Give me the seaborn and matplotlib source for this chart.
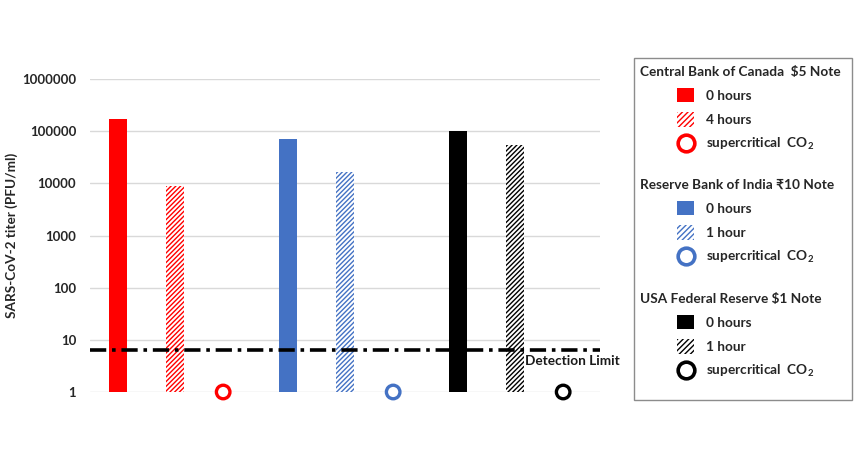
import numpy as np
import pandas as pd
import matplotlib.pyplot as plt
import seaborn as sns
from matplotlib.patches import Patch, Rectangle
from matplotlib.lines import Line2D

# values (PFU/ml)
notes = ['Central Bank of Canada  $5 Note', 'Reserve Bank of India \u20b910 Note', 'USA Federal Reserve $1 Note']
note_colors = ['#FF0000', '#4472C4', '#000000']
treated_labels = ['4 hours', '1 hour', '1 hour']
titer_0h = [170000, 70000, 100000]
titer_treated = [8900, 16500, 54000]
titer_sco2 = [1, 1, 1]
detection_limit = 6.3
yticks = [1, 10, 100, 1000, 10000, 100000, 1000000]


def build_frame():
    rows = []
    for i, note in enumerate(notes):
        rows.append({'slot': f'{i}-0h', 'note': note, 'kind': '0h', 'titer': titer_0h[i], 'color': note_colors[i]})
        rows.append({'slot': f'{i}-t', 'note': note, 'kind': 'treated', 'titer': titer_treated[i], 'color': note_colors[i]})
        rows.append({'slot': f'{i}-sco2', 'note': note, 'kind': 'sco2', 'titer': titer_sco2[i], 'color': note_colors[i]})
    return pd.DataFrame(rows)


def main():
    sns.set_style('white')
    plt.rcParams['font.family'] = ['Lato', 'DejaVu Sans']
    plt.rcParams['mathtext.default'] = 'regular'
    plt.rcParams['hatch.linewidth'] = 1.0

    df = build_frame()
    slots = list(df['slot'])
    bars = df[df['kind'] != 'sco2']

    fig = plt.figure(figsize=(8.68, 4.59), dpi=100)
    ax = fig.add_axes([90 / 868, 1 - 392 / 459, 510 / 868, 313 / 459])
    ax.set_yscale('log')

    sns.barplot(data=bars, x='slot', y='titer', hue='slot', order=slots, hue_order=list(bars['slot']),
                palette=list(bars['color']), width=0.32, legend=False, ax=ax, saturation=1, dodge=False)

    # hatched bars for the treated notes
    for p in ax.patches:
        idx = int(round(p.get_x() + p.get_width() / 2))
        if idx not in df.index:
            continue
        col = df.loc[idx, 'color']
        p.set_linewidth(0)
        if df.loc[idx, 'kind'] == 'treated':
            p.set_facecolor('white')
            p.set_edgecolor(col)
            p.set_hatch('///////')

    sco2 = df[df['kind'] == 'sco2']
    ax.scatter(sco2.index - 0.15, sco2['titer'], s=95, facecolors='white',
               edgecolors=sco2['color'], linewidths=2.4, zorder=5, clip_on=False)

    ax.axhline(detection_limit, color='black', lw=2.6, linestyle=(0, (4.5, 1.6, 1, 1.6)), zorder=4)
    ax.text(7.18, 3.9, 'Detection Limit', fontsize=9.8, fontweight='bold', va='center', ha='left',
            color='#1a1a1a', clip_on=False)

    ax.set_ylim(1, 1e6)
    ax.set_xlim(-0.5, 8.5)
    ax.set_yticks(yticks)
    ax.set_yticklabels([str(v) for v in yticks], fontsize=9.5, fontweight='bold', color='#262626')
    ax.minorticks_off()
    ax.tick_params(axis='y', length=0, pad=10)
    ax.set_xticks([])
    ax.set_xlabel('')
    ax.set_ylabel('SARS-CoV-2 titer (PFU/ml)', fontsize=9.8, fontweight='bold', color='#262626')
    ax.yaxis.set_label_coords(-0.142, 0.5)
    ax.grid(axis='y', color='#D9D9D9', lw=1)
    ax.set_axisbelow(True)
    for s in ax.spines.values():
        s.set_visible(False)

    # legend box
    fig.add_artist(Rectangle((634 / 868, 1 - 400 / 459), 218 / 868, 342 / 459, transform=fig.transFigure,
                             facecolor='white', edgecolor='#8c8c8c', lw=1))
    title_y = [72, 185, 299]
    for i, note in enumerate(notes):
        fig.text(640 / 868, 1 - title_y[i] / 459, note, fontsize=9.8, fontweight='bold', va='center', ha='left')
        handles = [
            Patch(facecolor=note_colors[i], edgecolor=note_colors[i], lw=0),
            Patch(facecolor='white', edgecolor=note_colors[i], hatch='//////', lw=0),
            Line2D([], [], marker='o', ls='', markersize=12, markerfacecolor='white',
                   markeredgecolor=note_colors[i], markeredgewidth=2.6),
        ]
        labels = ['0 hours', treated_labels[i], 'supercritical  CO$_2$']
        fig.legend(handles, labels, loc='upper left',
                   bbox_to_anchor=(677 / 868, 1 - (title_y[i] + 16) / 459),
                   frameon=False, handlelength=1.25, handleheight=1.25, handletextpad=0.9,
                   labelspacing=0.72, borderpad=0, borderaxespad=0,
                   prop={'weight': 'bold', 'size': 9.8})

    fig.savefig('out.png', dpi=100)


if __name__ == "__main__":
    main()
